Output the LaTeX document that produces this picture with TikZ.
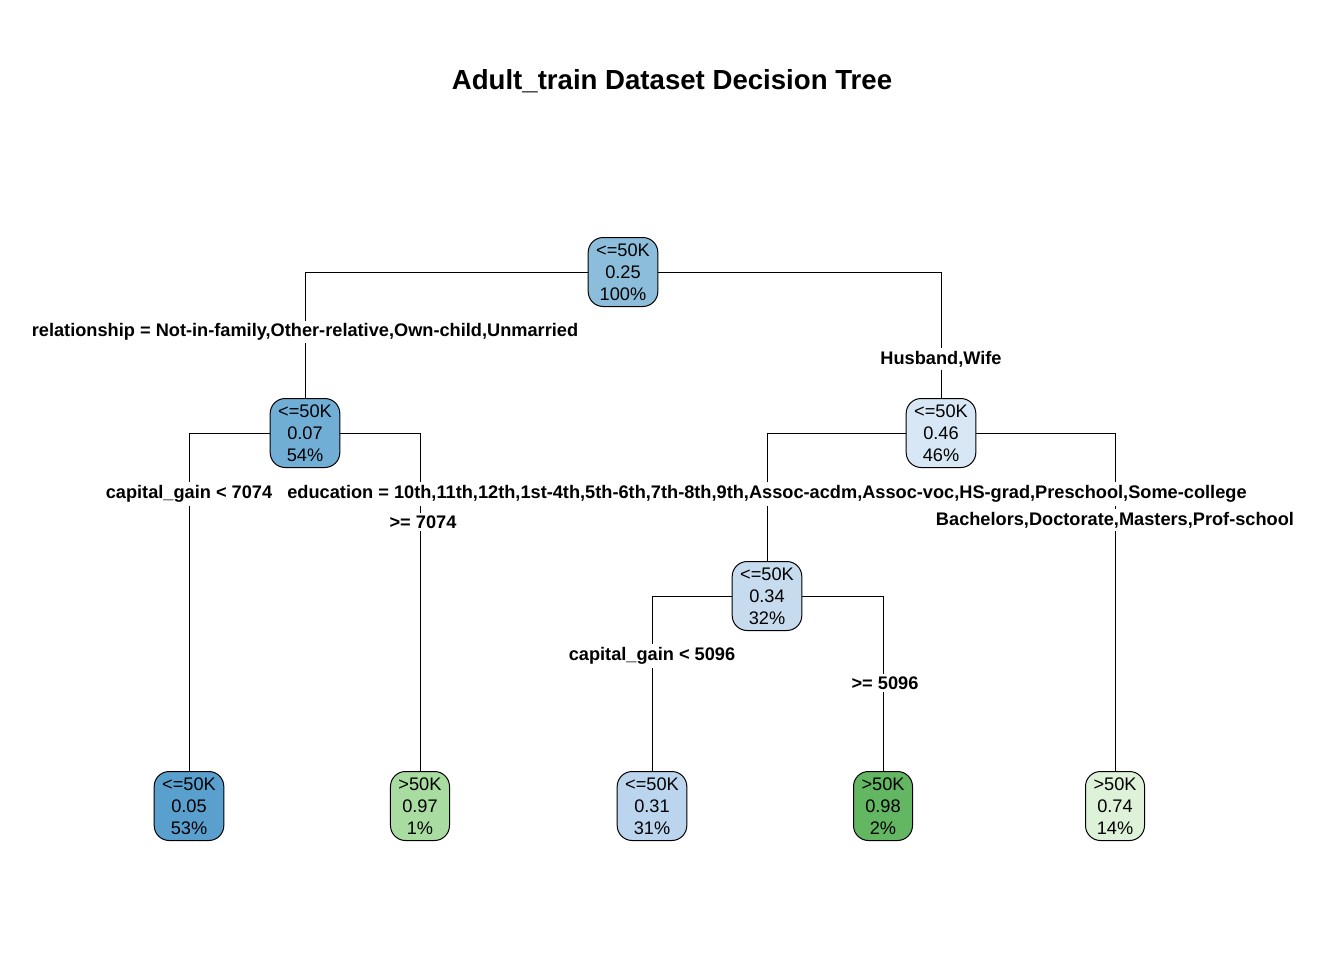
\documentclass[tikz,border=0pt]{standalone}
\usepackage{fontspec}
\setmainfont{Liberation Sans}
\usetikzlibrary{positioning}

\definecolor{rootblue}{HTML}{8CBEDC}
\definecolor{midblue}{HTML}{71AED6}
\definecolor{paleblue}{HTML}{D8E7F5}
\definecolor{darkblue}{HTML}{5AA0CF}
\definecolor{softblue}{HTML}{C7DBEF}
\definecolor{lightblue}{HTML}{BCD5EE}
\definecolor{lightgreen}{HTML}{A8DCA0}
\definecolor{midgreen}{HTML}{63B662}
\definecolor{palegreen}{HTML}{DEF2D9}

\begin{document}
\begin{tikzpicture}[x=0.5pt, y=-0.5pt,
  box/.style={draw, line width=0.5pt, rounded corners=7.5pt, align=center,
    minimum height=34.5pt, inner xsep=4pt, inner ysep=0pt,
    font=\fontsize{9.1pt}{11pt}\selectfont},
  split/.style={fill=white, inner sep=1.5pt, font=\fontsize{9.1pt}{11pt}\selectfont\bfseries},
  edge/.style={line width=0.5pt}]
\useasboundingbox (0,0) rectangle (1344,960);

% Title
\node[font=\fontsize{13.8pt}{16pt}\selectfont\bfseries] (title) at (672,81) {Adult\_train Dataset Decision Tree};

% Tree nodes
\node[box, fill=rootblue] (n1) at (623,272) {<=50K\\0.25\\100\%};
\node[box, fill=midblue] (n2) at (305,433) {<=50K\\0.07\\54\%};
\node[box, fill=paleblue] (n3) at (941,433) {<=50K\\0.46\\46\%};
\node[box, fill=softblue] (n6) at (767,596) {<=50K\\0.34\\32\%};

% Leaves
\node[box, fill=darkblue] (n4) at (189,806) {<=50K\\0.05\\53\%};
\node[box, fill=lightgreen] (n5) at (420,806) {>50K\\0.97\\1\%};
\node[box, fill=lightblue] (n12) at (652,806) {<=50K\\0.31\\31\%};
\node[box, fill=midgreen] (n13) at (883,806) {>50K\\0.98\\2\%};
\node[box, fill=palegreen] (n7) at (1115,806) {>50K\\0.74\\14\%};

% Branches
\draw[edge] (n1) -| (n2);
\draw[edge] (n1) -| (n3);
\draw[edge] (n2) -| (n4);
\draw[edge] (n2) -| (n5);
\draw[edge] (n3) -| (n6);
\draw[edge] (n3) -| (n7);
\draw[edge] (n6) -| (n12);
\draw[edge] (n6) -| (n13);

% Split labels
\node[split] (s2) at (305,332) {relationship = Not-in-family,Other-relative,Own-child,Unmarried};
\node[split] (s3) at (941,359) {Husband,Wife};
\node[split] (s4) at (189,494) {capital\_gain < 7074};
\node[split] (s5) at (423,522) {>= 7074};
\node[split] (s6) at (767,494) {education = 10th,11th,12th,1st-4th,5th-6th,7th-8th,9th,Assoc-acdm,Assoc-voc,HS-grad,Preschool,Some-college};
\node[split] (s7) at (1115,520) {Bachelors,Doctorate,Masters,Prof-school};
\node[split] (s12) at (652,656) {capital\_gain < 5096};
\node[split] (s13) at (885,683) {>= 5096};
\end{tikzpicture}
\end{document}
